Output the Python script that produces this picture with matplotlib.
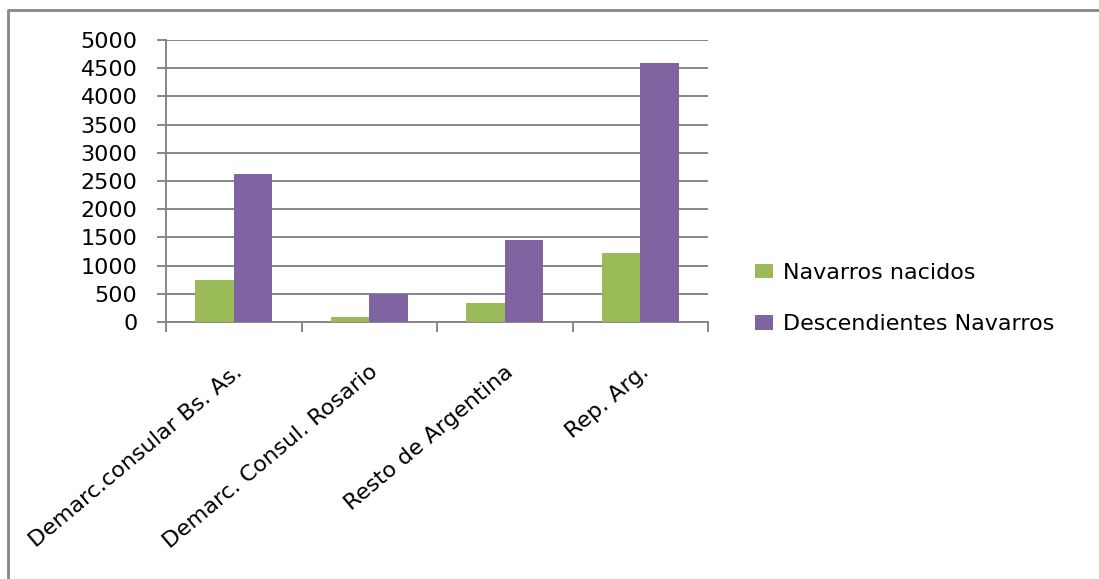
import numpy as np
import matplotlib
matplotlib.use("Agg")
import matplotlib.pyplot as plt
import matplotlib.transforms as mtransforms
from matplotlib.lines import Line2D

# ---------- datos ----------
categorias = ["Demarc.consular Bs. As.", "Demarc. Consul. Rosario",
              "Resto de Argentina", "Rep. Arg."]
nacidos = [750, 90, 340, 1230]
descendientes = [2620, 490, 1460, 4590]
series = ["Navarros nacidos", "Descendientes Navarros"]
y_ticks = list(range(0, 5001, 500))

VERDE = "#9BBB59"
MORADO = "#8064A2"
GRIS = "#868686"
FS = 16

W, H = 1099, 579
fig = plt.figure(figsize=(W / 100, H / 100), dpi=100)
ax = fig.add_axes([166 / W, 1 - 322 / H, (708 - 166) / W, (322 - 40) / H])

x = np.arange(len(categorias))
bw = 0.284
ax.bar(x - bw / 2, nacidos, bw, color=VERDE, label=series[0], zorder=3)
ax.bar(x + bw / 2, descendientes, bw, color=MORADO, label=series[1], zorder=3)

ax.set_xlim(-0.5, len(categorias) - 0.5)
ax.set_ylim(0, 5000)
ax.set_yticks(y_ticks)
ax.set_yticklabels([str(v) for v in y_ticks], fontsize=FS)
ax.yaxis.grid(True, color=GRIS, linewidth=1.4, zorder=0)

# etiquetas de categoria en los centros, marcas en los limites
ax.set_xticks(x)
ax.set_xticklabels(categorias, fontsize=FS, rotation=40, ha="right",
                   va="center", rotation_mode="anchor")
ax.set_xticks(np.arange(-0.5, len(categorias)), minor=True)
ax.tick_params(axis="x", which="major", length=0, pad=34)
ax.tick_params(axis="x", which="minor", length=7, width=1.4, color=GRIS)
ax.tick_params(axis="y", length=6.5, width=1.4, color=GRIS, pad=14)
desplaza = mtransforms.ScaledTranslation(6 / 100, 0, fig.dpi_scale_trans)
for lbl in ax.get_xticklabels():
    lbl.set_transform(lbl.get_transform() + desplaza)

for s in ("top", "right"):
    ax.spines[s].set_visible(False)
for s in ("left", "bottom"):
    ax.spines[s].set_color(GRIS)
    ax.spines[s].set_linewidth(1.4)

ax.legend(loc="upper left", bbox_to_anchor=(755 / W, 1 - 263 / H),
          bbox_transform=fig.transFigure, frameon=False, fontsize=FS,
          borderpad=0, borderaxespad=0, handlelength=0.82, handleheight=0.63,
          handletextpad=0.42, labelspacing=1.4)

# marco exterior (solo lados izquierdo y superior)
fig.add_artist(Line2D([8 / W, 8 / W, 1.02], [-0.02, 1 - 10 / H, 1 - 10 / H],
                      transform=fig.transFigure, color=GRIS, linewidth=2))

fig.savefig("out.png", dpi=100)
